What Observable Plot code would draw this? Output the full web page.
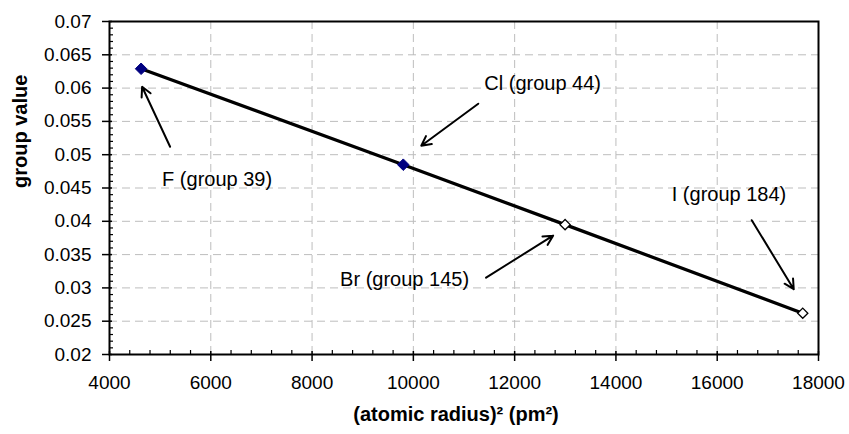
<!DOCTYPE html>
<html>
<head>
<meta charset="utf-8">
<script src="https://cdn.jsdelivr.net/npm/d3@7"></script>
<script src="https://cdn.jsdelivr.net/npm/@observablehq/plot@0.6"></script>
<style>
  html, body { margin: 0; padding: 0; background: #fff; }
</style>
</head>
<body>
<div id="chart"></div>
<script>
// Halogens: squared atomic radius vs. group value
const elements = ["F", "Cl", "Br", "I"];
const groupNumbers = [39, 44, 145, 184];
const radiusSquared = [4624, 9801, 12996, 17689];
const groupValues = [0.0629, 0.0485, 0.0395, 0.0262];
const filledMarker = [true, true, false, false];

const xTicks = [4000, 6000, 8000, 10000, 12000, 14000, 16000, 18000];
const yTicks = [0.02, 0.025, 0.03, 0.035, 0.04, 0.045, 0.05, 0.055, 0.06, 0.065, 0.07];

// Layout
const W = 849, H = 434;
const mL = 109, mR = 31, mT = 21, mB = 80;
const xDomain = [4000, 18000];
const yDomain = [0.02, 0.07];

// Minor ticks: 400 on x, 0.001 on y
const xMinor = d3.range(4000, 18001, 400).filter(v => v % 2000 !== 0);
const yMinor = d3.range(20, 71).filter(i => i % 5 !== 0).map(i => i / 1000);

const points = elements.map((el, i) => ({
  element: el,
  group: groupNumbers[i],
  r2: radiusSquared[i],
  value: groupValues[i],
  filled: filledMarker[i]
}));

// Callout placement, in pixels relative to each point
const calloutOffsets = {
  F:  {tip: [1, 18],   tail: [29, 78],   text: [21, 117]},
  Cl: {tip: [18, -19], tail: [75, -61],  text: [81, -75]},
  Br: {tip: [-12, 11], tail: [-79, 53],  text: [-225, 61]},
  I:  {tip: [-9, -24], tail: [-51, -93], text: [-131, -112]}
};

const xs = Plot.scale({x: {domain: xDomain, range: [mL, W - mR]}});
const ys = Plot.scale({y: {domain: yDomain, range: [H - mB, mT]}});
const shift = (p, [dx, dy]) => ({
  x: xs.invert(xs.apply(p.r2) + dx),
  y: ys.invert(ys.apply(p.value) + dy)
});

const labelSize = 20;
const callouts = points.map(p => {
  const o = calloutOffsets[p.element];
  const tip = shift(p, o.tip);
  const tail = shift(p, o.tail);
  // text anchored on its baseline; Plot centres a line 0.32em below y
  const txt = shift(p, [o.text[0], o.text[1] - 0.32 * labelSize]);
  return {
    label: `${p.element} (group ${p.group})`,
    x1: tail.x, y1: tail.y, x2: tip.x, y2: tip.y,
    tx: txt.x, ty: txt.y
  };
});

const fmtY = d => String(+d.toFixed(3));
const gridStyle = {stroke: "#bdbdbd", strokeOpacity: 1, strokeWidth: 1, strokeDasharray: "8,5"};

const chart = Plot.plot({
  width: W,
  height: H,
  marginLeft: mL,
  marginRight: mR,
  marginTop: mT,
  marginBottom: mB,
  style: {
    fontFamily: "Arial, 'Liberation Sans', sans-serif",
    fontSize: "19px",
    color: "black",
    background: "white",
    overflow: "visible"
  },
  x: {domain: xDomain, nice: false},
  y: {domain: yDomain, nice: false},
  marks: [
    Plot.gridX({ticks: xTicks, ...gridStyle}),
    Plot.gridY({ticks: yTicks, ...gridStyle}),
    // major ticks crossing the axes
    Plot.axisX({ticks: xTicks, tickSize: 10, dy: -3, strokeWidth: 1.5, fill: "none", label: null}),
    Plot.axisY({ticks: yTicks, tickSize: 10, dx: 3, strokeWidth: 1.5, fill: "none", label: null}),
    // minor ticks inside the frame
    Plot.axisX({ticks: xMinor, tickSize: 4, dy: -4, strokeWidth: 1.2, fill: "none", label: null}),
    Plot.axisY({ticks: yMinor, tickSize: 4, dx: 4, strokeWidth: 1.2, fill: "none", label: null}),
    // tick labels
    Plot.axisX({ticks: xTicks, tickSize: 0, tickPadding: 21, tickFormat: d => String(d), fontSize: 19, label: null}),
    Plot.axisY({ticks: yTicks, tickSize: 0, tickPadding: 18, tickFormat: fmtY, fontSize: 19, label: null}),
    Plot.frame({stroke: "black", strokeWidth: 2}),
    // axis titles
    Plot.text(["(atomic radius)\u00b2 (pm\u00b2)"], {
      frameAnchor: "bottom", dx: -8, dy: 66, fontWeight: "bold", fontSize: 20
    }),
    Plot.text(["group value"], {
      frameAnchor: "left", dx: -89, rotate: -90, fontWeight: "bold", fontSize: 20
    }),
    Plot.line(points, {x: "r2", y: "value", stroke: "black", strokeWidth: 3.25}),
    Plot.dot(points.filter(d => d.filled), {
      x: "r2", y: "value", symbol: "diamond2", r: 5.2,
      fill: "#000080", stroke: "#000080", strokeWidth: 1
    }),
    Plot.dot(points.filter(d => !d.filled), {
      x: "r2", y: "value", symbol: "diamond2", r: 4.6,
      fill: "white", stroke: "black", strokeWidth: 1.3
    }),
    Plot.arrow(callouts, {
      x1: "x1", y1: "y1", x2: "x2", y2: "y2",
      stroke: "black", strokeWidth: 2, headLength: 8, headAngle: 55
    }),
    Plot.text(callouts, {
      x: "tx", y: "ty", text: "label", textAnchor: "start",
      fontSize: labelSize, fill: "black"
    })
  ]
});

document.getElementById("chart").appendChild(chart);
</script>
</body>
</html>
